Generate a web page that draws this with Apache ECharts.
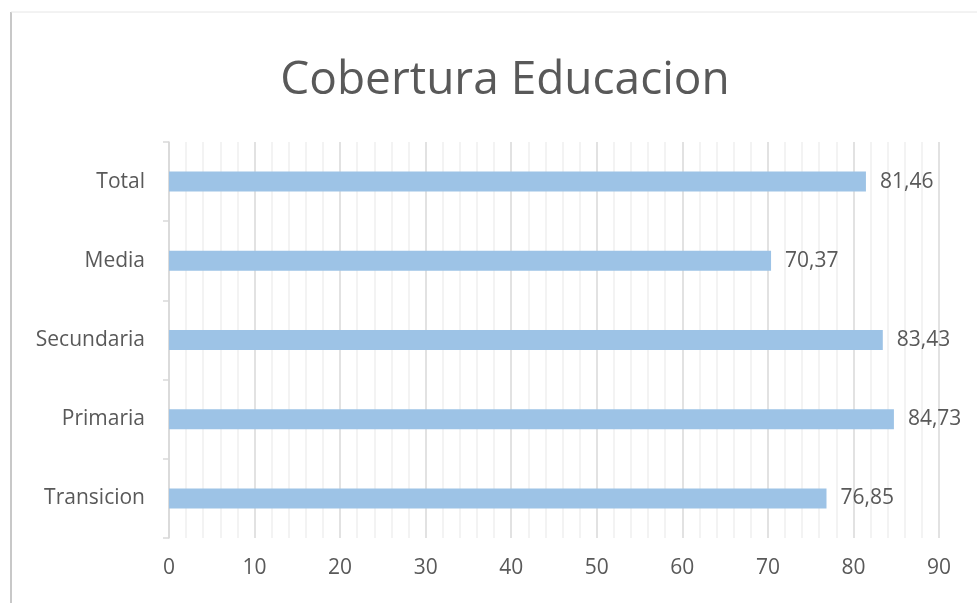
<!DOCTYPE html>
<html lang="es">
<head>
    <meta charset="utf-8">
    <title>Cobertura Educacion</title>
    <script src="https://cdn.jsdelivr.net/npm/echarts@6/dist/echarts.min.js"></script>
    <style type="text/css">
        html, body {margin: 0; padding: 0; background: #fff;}
        #chart {width: 977px; height: 603px;}
    </style>
</head>
<body>
    <div id="chart"></div>
    <script>
        // categories bottom to top, as the category axis draws them
        var categories = ['Transicion', 'Primaria', 'Secundaria', 'Media', 'Total'];
        var cobertura = [76.85, 84.73, 83.43, 70.37, 81.46];
        var xMin = 0, xMax = 90, xStep = 10;

        var font = 'Open Sans';
        var txt = '#595959';

        var chart = echarts.init(document.getElementById('chart'), null, {renderer: 'canvas'});
        chart.setOption({
            animation: false,
            title: {
                text: 'Cobertura Educacion',
                left: 500, top: 53, textAlign: 'center',
                textStyle: {fontFamily: font, fontSize: 46, fontWeight: 'normal', color: txt}
            },
            graphic: [
                {type: 'line', shape: {x1: 11, y1: 12, x2: 11, y2: 603},
                 style: {stroke: '#c8c8c8', lineWidth: 2}},
                {type: 'line', shape: {x1: 11, y1: 12, x2: 977, y2: 12},
                 style: {stroke: '#e6e6e6', lineWidth: 1}}
            ],
            grid: {left: 169, right: 38, top: 142, bottom: 65, containLabel: false},
            xAxis: {
                type: 'value', min: xMin, max: xMax, interval: xStep,
                axisLine: {show: false},
                axisTick: {show: false},
                axisLabel: {fontFamily: font, fontSize: 21, color: txt, margin: 20},
                splitLine: {show: true, lineStyle: {color: '#d9d9d9', width: 1.5}},
                minorTick: {show: false, splitNumber: 5},
                minorSplitLine: {show: true, lineStyle: {color: '#efefef', width: 1.5}}
            },
            yAxis: {
                type: 'category', data: categories,
                axisLine: {show: true, lineStyle: {color: '#d9d9d9', width: 1.5}},
                axisTick: {show: true, length: 6, lineStyle: {color: '#d9d9d9', width: 1.5}},
                axisLabel: {fontFamily: font, fontSize: 21, color: txt, margin: 24}
            },
            series: [{
                type: 'bar', data: cobertura, barWidth: 20,
                itemStyle: {color: '#9dc3e6'},
                label: {
                    show: true, position: 'right', distance: 14,
                    fontFamily: font, fontSize: 21, color: txt,
                    formatter: function (p) { return p.value.toFixed(2).replace('.', ','); }
                }
            }]
        });
    </script>
</body>
</html>
